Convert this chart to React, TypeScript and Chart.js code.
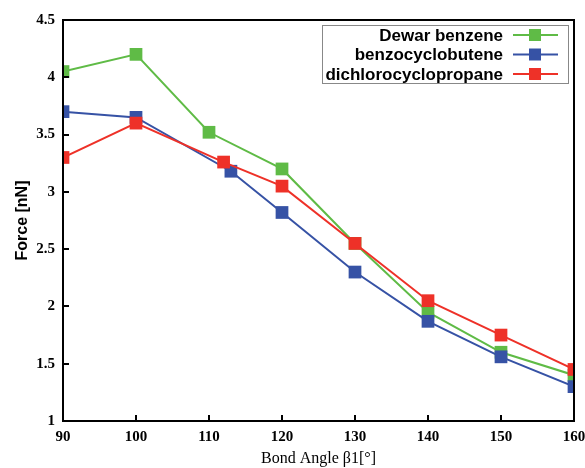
import React, { useEffect, useRef } from "react";
import { Chart, registerables } from "chart.js";

Chart.register(...registerables);

const seriesNames = ["Dewar benzene", "benzocyclobutene", "dichlorocyclopropane"];
const seriesColors = ["#5fbb46", "#3652a5", "#ee3128"];

const dewarX = [90, 100, 110, 120, 130, 140, 150, 160];
const dewarY = [4.05, 4.2, 3.52, 3.2, 2.55, 1.95, 1.6, 1.4];

const benzoX = [90, 100, 113, 120, 130, 140, 150, 160];
const benzoY = [3.7, 3.65, 3.18, 2.82, 2.3, 1.87, 1.56, 1.3];

const dichloroX = [90, 100, 112, 120, 130, 140, 150, 160];
const dichloroY = [3.3, 3.6, 3.26, 3.05, 2.55, 2.05, 1.75, 1.45];

const xTicks = [90, 100, 110, 120, 130, 140, 150, 160];
const yTicks = [1, 1.5, 2, 2.5, 3, 3.5, 4, 4.5];

const toPoints = (xs: number[], ys: number[]) => xs.map((x, i) => ({ x, y: ys[i] }));

const framePlugin = {
  id: "frame",
  afterDraw(chart: any) {
    const { ctx, chartArea } = chart;
    const xs = chart.scales.x;
    const ys = chart.scales.y;
    ctx.save();
    ctx.strokeStyle = "#000";
    ctx.lineWidth = 2;
    ctx.strokeRect(chartArea.left, chartArea.top, chartArea.right - chartArea.left, chartArea.bottom - chartArea.top);
    ctx.beginPath();
    xTicks.slice(1, -1).forEach((v) => {
      const px = Math.round(xs.getPixelForValue(v));
      ctx.moveTo(px, chartArea.bottom);
      ctx.lineTo(px, chartArea.bottom - 6);
    });
    yTicks.slice(1, -1).forEach((v) => {
      const py = Math.round(ys.getPixelForValue(v));
      ctx.moveTo(chartArea.left, py);
      ctx.lineTo(chartArea.left + 6, py);
    });
    ctx.stroke();

    // legend
    const bx = 322, by = 25, bw = 246, bh = 58;
    ctx.fillStyle = "#fff";
    ctx.fillRect(bx, by, bw, bh);
    ctx.lineWidth = 1;
    ctx.strokeStyle = "#888";
    ctx.strokeRect(bx + 0.5, by + 0.5, bw, bh);
    ctx.font = 'bold 17px "Liberation Sans"';
    ctx.textAlign = "right";
    ctx.textBaseline = "middle";
    chart.data.datasets.forEach((ds: any, i: number) => {
      const y = by + 10 + i * 19.5;
      ctx.fillStyle = "#000";
      ctx.fillText(ds.label, 503, y + 1);
      ctx.strokeStyle = ds.borderColor;
      ctx.lineWidth = 2;
      ctx.beginPath();
      ctx.moveTo(513, y);
      ctx.lineTo(558, y);
      ctx.stroke();
      ctx.fillStyle = ds.borderColor;
      ctx.fillRect(529, y - 6, 12, 12);
    });
    ctx.restore();
  },
};

export default function App() {
  const ref = useRef<HTMLCanvasElement>(null);
  useEffect(() => {
    if (!ref.current) return;
    const mk = (i: number, xs: number[], ys: number[], order: number) => ({
      label: seriesNames[i],
      data: toPoints(xs, ys),
      borderColor: seriesColors[i],
      backgroundColor: seriesColors[i],
      borderWidth: 2,
      pointStyle: "rect" as const,
      pointRadius: 9,
      pointBorderWidth: 0,
      pointBackgroundColor: seriesColors[i],
      order,
    });
    const chart = new Chart(ref.current, {
      type: "line",
      data: {
        datasets: [
          mk(0, dewarX, dewarY, 3),
          mk(1, benzoX, benzoY, 2),
          mk(2, dichloroX, dichloroY, 1),
        ],
      },
      options: {
        responsive: false,
        animation: false,
        layout: { padding: { top: 20, right: 11, left: 0, bottom: 0 } },
        plugins: { legend: { display: false }, tooltip: { enabled: false } },
        scales: {
          x: {
            type: "linear",
            min: 90,
            max: 160,
            afterBuildTicks: (s: any) => {
              s.ticks = xTicks.map((v) => ({ value: v }));
            },
            afterFit: (s: any) => {
              s.height = 47;
              s.paddingLeft = 0;
              s.paddingRight = 0;
            },
            grid: { display: false, drawTicks: false },
            border: { display: false },
            ticks: {
              padding: 7,
              maxRotation: 0,
              color: "#000",
              font: { family: "Liberation Serif", weight: "bold", size: 15 },
              callback: (v: any) => String(v),
            },
            title: {
              display: true,
              text: "Bond Angle β1[°]",
              color: "#000",
              font: { family: "Liberation Serif", size: 16 },
              padding: { top: 0, bottom: 0 },
            },
          },
          y: {
            type: "linear",
            min: 1,
            max: 4.5,
            afterBuildTicks: (s: any) => {
              s.ticks = yTicks.map((v) => ({ value: v }));
            },
            afterFit: (s: any) => {
              s.width = 63;
              s.paddingTop = 0;
              s.paddingBottom = 0;
            },
            grid: { display: false, drawTicks: false },
            border: { display: false },
            ticks: {
              padding: 8,
              color: "#000",
              font: { family: "Liberation Serif", weight: "bold", size: 15 },
              callback: (v: any) => String(v),
            },
            title: {
              display: true,
              text: "Force [nN]",
              color: "#000",
              font: { family: "Liberation Sans", weight: "bold", size: 16 },
              padding: { top: 13, bottom: 0 },
            },
          },
        },
      },
      plugins: [framePlugin],
    });
    return () => chart.destroy();
  }, []);
  return (
    <div style={{ position: "absolute", left: 0, top: 0, width: 585, height: 468, background: "#fff" }}>
      <canvas ref={ref} width={585} height={468} />
    </div>
  );
}
